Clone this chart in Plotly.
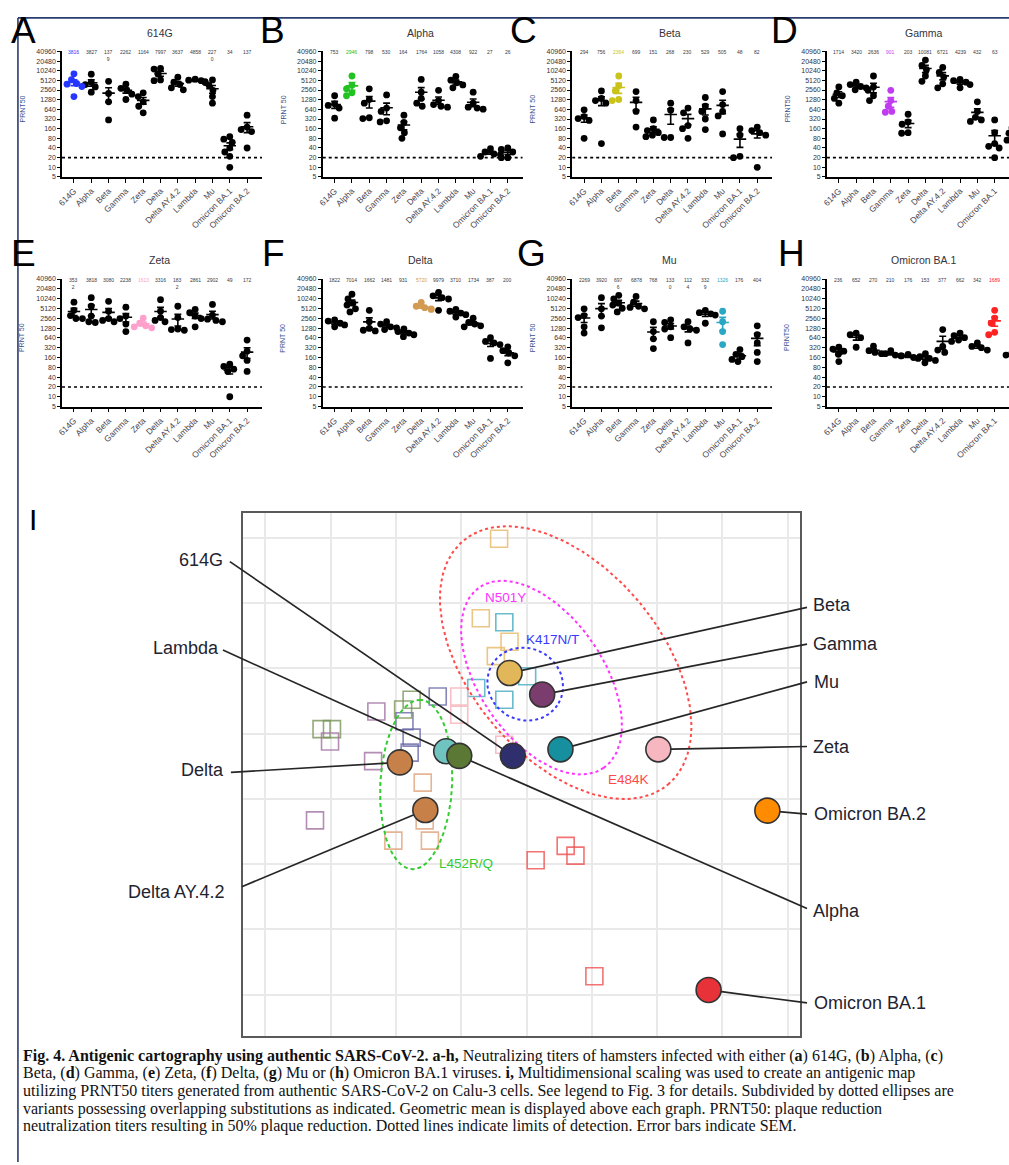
import numpy as np
import plotly.graph_objects as go

W, H = 1009, 1165

# ---------------------------------------------------------------- data
variants = ["614G", "Alpha", "Beta", "Gamma", "Zeta", "Delta", "Delta AY.4.2",
            "Lambda", "Mu", "Omicron BA.1", "Omicron BA.2"]
titer_ticks = [5, 10, 20, 40, 80, 160, 320, 640, 1280, 2560, 5120, 10240, 20480, 40960]
detection_limit = 20

# PRNT50 titers of individual hamsters, one list per virus tested (columns as in `variants`)
prnt_614G = [
    [8200, 5400, 4100, 3900, 3300, 1600], [8000, 4500, 3800, 3200, 2200],
    [4800, 2000, 1100, 300], [3900, 2900, 2500, 1900, 1300], [2100, 1600, 1100, 800, 500],
    [12000, 11500, 8000, 5300, 5000], [6400, 4500, 3800, 3000, 2600],
    [5600, 5200, 5000, 4700, 4400], [5300, 3600, 2500, 1600, 1000],
    [90, 75, 60, 40, 30, 22, 10], [420, 180, 150, 130, 40]]
gmt_614G = [3816, 3827, 1379, 2262, 1164, 7997, 3637, 4858, 2270, 34, 137]

prnt_alpha = [
    [1700, 950, 850, 700, 340], [7000, 3600, 2800, 2100, 1700], [2800, 1300, 1000, 350, 330],
    [1800, 700, 550, 280, 260], [420, 250, 170, 120, 80], [5500, 2200, 1400, 1000, 800],
    [2500, 1200, 900, 800, 750], [6800, 5200, 4300, 3700, 3000], [2200, 1000, 750, 700, 650],
    [38, 30, 26, 25, 22], [40, 36, 30, 20, 20]]
gmt_alpha = [753, 2946, 798, 530, 164, 1764, 1058, 4308, 922, 27, 26]

prnt_beta = [
    [620, 380, 330, 290, 80], [2400, 1400, 1200, 1000, 55], [7000, 3500, 2400, 1300, 1200],
    [2300, 1200, 550, 180], [300, 160, 140, 120, 100, 90], [1000, 600, 85, 85],
    [700, 500, 200, 160, 80], [1500, 800, 550, 320, 150], [2300, 900, 550, 400, 110],
    [160, 100, 22, 20], [180, 140, 120, 100, 10]]
gmt_beta = [294, 756, 2364, 699, 151, 268, 230, 529, 505, 48, 82]

prnt_gamma = [
    [3200, 2100, 1700, 1400, 1000], [4500, 3800, 3300, 3000, 2600], [7000, 3200, 2500, 1700, 1200],
    [2500, 1200, 800, 550, 520], [450, 260, 220, 120, 115], [22000, 15000, 11000, 7000, 4800],
    [13000, 9000, 6500, 4000, 3000], [5500, 5000, 4500, 3800, 3000], [1100, 550, 360, 300, 270],
    [300, 120, 55, 45, 40, 20], [170, 115, 80, 70]]
gmt_gamma = [1714, 3420, 2636, 901, 203, 10081, 6721, 4239, 432, 63, 102]

prnt_zeta = [
    [8000, 4500, 3100, 2500, 2500], [11000, 6000, 3000, 2000, 1900], [8500, 4200, 2500, 2200, 2000],
    [5600, 3000, 2500, 1700, 1000], [2600, 1800, 1500, 1400, 1300], [9500, 4200, 2700, 2200, 2000],
    [6000, 2700, 1200, 1150, 1100], [4800, 3800, 3000, 2500, 1400], [6800, 3200, 2400, 2200, 2000],
    [100, 85, 70, 60, 10], [550, 250, 180, 130, 60]]
gmt_zeta = [3532, 3818, 3080, 2238, 1613, 3316, 1832, 2861, 2902, 49, 172]

prnt_delta = [
    [2300, 2100, 1800, 1600, 1400], [14000, 10000, 7500, 6500, 5000, 4000],
    [4500, 2000, 1250, 1100, 1050], [2000, 1700, 1400, 1300, 1150], [1200, 1000, 900, 800, 700],
    [7800, 6000, 5400, 5000, 4800], [16000, 12500, 11000, 10000, 4500],
    [4800, 4200, 3700, 3300, 2800], [2600, 1900, 1700, 1500, 1400],
    [650, 500, 450, 400, 150], [340, 260, 220, 180, 110]]
gmt_delta = [1822, 7014, 1662, 1481, 931, 5720, 9979, 3710, 1734, 387, 200]

prnt_mu = [
    [5000, 3100, 2700, 1400, 900], [11000, 5000, 3000, 1300],
    [13000, 10000, 7500, 6500, 5200, 4000], [12000, 8000, 6000, 5500, 5000],
    [2000, 1000, 600, 300], [2300, 1900, 1400, 1200, 650], [2000, 1400, 1200, 1100, 450],
    [4500, 3800, 3500, 3200, 1800], [4200, 2000, 1000, 400], [280, 200, 170, 140, 120],
    [1500, 800, 450, 230, 120]]
gmt_mu = [2269, 3920, 6976, 6878, 768, 1330, 1124, 3329, 1326, 176, 404]

prnt_ba1 = [
    [330, 290, 250, 200, 120], [900, 800, 650, 330], [360, 260, 230, 210], [260, 210, 190, 180],
    [200, 180, 160, 150], [210, 170, 150, 130, 110], [1150, 350, 270, 230],
    [900, 750, 650, 550, 500], [450, 350, 320, 270], [4500, 2600, 1800, 950, 800],
    [220, 190, 170]]
gmt_ba1 = [236, 652, 270, 210, 176, 153, 377, 662, 342, 1689, 193]

# antigenic map coordinates (antigenic units); antigens drawn as circles, sera as squares
antigen_names = ["614G", "Lambda", "Alpha", "Beta", "Gamma", "Delta", "Delta AY.4.2",
                 "Mu", "Zeta", "Omicron BA.1", "Omicron BA.2"]
antigen_x = [3.79, 2.77, 2.97, 3.74, 4.24, 2.06, 2.45, 4.52, 6.02, 6.79, 7.69]
antigen_y = [3.66, 3.73, 3.66, 4.93, 4.60, 3.56, 2.83, 3.76, 3.76, 0.07, 2.82]

sera_beta_x, sera_beta_y = [3.58, 3.30, 3.74, 3.53], [6.99, 5.77, 5.41, 5.19]
sera_mu_x, sera_mu_y = [3.66, 4.01, 3.23, 3.66], [5.71, 4.88, 4.70, 4.52]
sera_614G_x, sera_614G_y = [2.64, 2.13, 2.24, 2.21], [4.57, 4.19, 3.94, 3.71]
sera_alpha_x, sera_alpha_y = [2.24, 2.11, 0.86, 1.02], [4.52, 4.37, 4.07, 4.07]
sera_gamma_x, sera_gamma_y = [1.70, 0.99, 1.65, 0.76], [4.34, 3.88, 3.58, 2.67]
sera_zeta_x, sera_zeta_y = [2.97, 2.97, 3.66], [4.57, 4.29, 3.83]
sera_delta_x, sera_delta_y = [2.41, 2.44, 1.96, 2.52], [3.25, 2.67, 2.36, 2.36]
sera_ba1_x, sera_ba1_y = [4.14, 4.60, 4.75, 5.04], [2.06, 2.28, 2.13, 0.28]

# substitution clusters: label, centre x, centre y, semi-major, semi-minor, angle (deg)
cluster_labels = ["E484K", "N501Y", "K417N/T", "L452R/Q"]
cluster_cx = [4.60, 4.23, 3.98, 2.31]
cluster_cy = [5.09, 4.86, 4.76, 3.22]
cluster_a = [2.44, 1.68, 0.59, 1.30]
cluster_b = [1.46, 0.95, 0.55, 0.55]
cluster_angle = [-50, -55.5, -30, 87]

# ---------------------------------------------------------------- styles / geometry
FONT = "Liberation Sans, Arial, sans-serif"
def pxx(px): return px / W
def pxy(py): return 1 - py / H

ROWS = [(47.7, 174.0), (276.7, 405.0)]
AXIS_LEFT = [57.3, 319.3, 570.0, 826.0]
LETTER_X = [4, 254, 506, 768, 4, 256, 513, 775]
LETTER_Y = [27, 251]
COL0, COL_STEP, PANEL_W, SEP = 12.0, 17.4, 201.0, 6.2

panels = [
    ("A", "614G", prnt_614G, gmt_614G, 0, "#2436ff", "PRNT50", {2, 8}),
    ("B", "Alpha", prnt_alpha, gmt_alpha, 1, "#22c222", "PRNT 50", set()),
    ("C", "Beta", prnt_beta, gmt_beta, 2, "#c9c31a", "PRNT 50", set()),
    ("D", "Gamma", prnt_gamma, gmt_gamma, 3, "#c13cf0", "PRNT50", set()),
    ("E", "Zeta", prnt_zeta, gmt_zeta, 4, "#ff9fcc", "PRNT 50", {0, 6}),
    ("F", "Delta", prnt_delta, gmt_delta, 5, "#d39b52", "PRNT 50", set()),
    ("G", "Mu", prnt_mu, gmt_mu, 8, "#2aa7c2", "PRNT 50", {2, 5, 6, 7}),
    ("H", "Omicron BA.1", prnt_ba1, gmt_ba1, 9, "#ff2222", "PRNT50", set()),
]

fig = go.Figure()
annotations, shapes, layout_axes = [], [], {}

def note(xp, yp, text, size, color, family=FONT, xanchor="center", yanchor="middle", **kw):
    annotations.append(dict(x=pxx(xp), y=pxy(yp), xref="paper", yref="paper", text=text,
                            showarrow=False, xanchor=xanchor, yanchor=yanchor,
                            font=dict(size=size, color=color, family=family), **kw))

def ax_ids(n):
    return ("x" if n == 1 else f"x{n}", "y" if n == 1 else f"y{n}",
            "xaxis" if n == 1 else f"xaxis{n}", "yaxis" if n == 1 else f"yaxis{n}")

def swarm(vals, dpx):
    vals = np.asarray(vals, float)
    order = np.argsort(-vals, kind="stable")
    cands = sorted(np.arange(-10, 10.5, 0.5), key=lambda c: (abs(c), c))
    placed, offs = [], np.zeros(len(vals))
    for idx in order:
        yp = np.log2(vals[idx]) * dpx
        chosen = cands[-1]
        for c in cands:
            if all((c - a) ** 2 + (yp - b) ** 2 >= SEP ** 2 for a, b in placed):
                chosen = c
                break
        placed.append((chosen, yp))
        offs[idx] = chosen / COL_STEP
    return offs

for k, (letter, title, data, gmt, hi, hcol, ytitle, wraps) in enumerate(panels):
    n = k + 1
    xr, yr, xk, yk = ax_ids(n)
    row, col = divmod(k, 4)
    left = AXIS_LEFT[col]
    right = min(left + PANEL_W, W)
    top, bot = ROWS[row]
    dpx = (bot - top) / 13.0
    x_range = [-COL0 / COL_STEP, (right - left - COL0) / COL_STEP]

    layout_axes[xk] = dict(domain=[pxx(left), pxx(right)], range=x_range, anchor=yr,
                           tickvals=list(range(len(variants))), ticktext=variants, tickangle=-45,
                           ticks="outside", ticklen=4, tickwidth=1.3, tickcolor="black",
                           showline=True, linecolor="black", linewidth=1.6, showgrid=False,
                           zeroline=False, tickfont=dict(size=8.5, color="#4a4650", family=FONT))
    layout_axes[yk] = dict(domain=[pxy(bot), pxy(top)], type="log",
                           range=[np.log10(5), np.log10(40960)], anchor=xr,
                           tickvals=titer_ticks, ticktext=[str(t) for t in titer_ticks],
                           ticks="outside", ticklen=3, tickwidth=1.2, tickcolor="black",
                           showline=True, linecolor="black", linewidth=1.6, showgrid=False,
                           zeroline=False, tickfont=dict(size=7, color="#33323d", family=FONT))

    # limit of detection
    fig.add_trace(go.Scatter(x=x_range, y=[detection_limit] * 2, mode="lines", xaxis=xr, yaxis=yr,
                             line=dict(color="black", width=1.6, dash="dot"), hoverinfo="skip"))

    for group, colr in (("other", "black"), ("homologous", hcol)):
        px_, py_, lx, ly = [], [], [], []
        for i, vals in enumerate(data):
            if (i == hi) != (group == "homologous"):
                continue
            v = np.asarray(vals, float)
            px_ += list(i + swarm(v, dpx))
            py_ += list(v)
            m = v.mean()
            s = v.std(ddof=1) / np.sqrt(len(v))
            lo, hi_ = max(m - s, 5.5), m + s
            lx += [i - 0.36, i + 0.36, None, i, i, None, i - 0.2, i + 0.2, None, i - 0.2, i + 0.2, None]
            ly += [m, m, None, lo, hi_, None, lo, lo, None, hi_, hi_, None]
        fig.add_trace(go.Scatter(x=px_, y=py_, mode="markers", xaxis=xr, yaxis=yr,
                                 marker=dict(size=6.8, color=colr, line=dict(width=0))))
        fig.add_trace(go.Scatter(x=lx, y=ly, mode="lines", xaxis=xr, yaxis=yr,
                                 line=dict(color=colr, width=1.6)))

    # geometric mean titers above each column
    for i, g in enumerate(gmt):
        s = str(g)
        if i in wraps:
            s = s[:3] + "<br>" + s[3:]
        annotations.append(dict(x=i, y=pxy(top - 4.5), xref=xr, yref="paper", text=s,
                                showarrow=False, xanchor="center", yanchor="top",
                                font=dict(size=5, color=hcol if i == hi else "#3a3a40",
                                          family=FONT)))
    note(left + 98, top - 19, title, 10.5, "#33333b")
    note(left - 40, (top + bot) / 2 - 5, ytitle, 7, "#3a4f8f", textangle=-90)
    note(LETTER_X[k], LETTER_Y[row], letter, 37, "black", xanchor="left")

# ---------------------------------------------------------------- antigenic map
UNIT, X0PX, Y0PX = 65.6, 261.7, 996.5
def mx(px): return (px - X0PX) / UNIT
def my(py): return (Y0PX - py) / UNIT

BOX = (239.3, 512.0, 799.0, 1038.0)
grid_axis = dict(tick0=0, dtick=1, showgrid=True, gridcolor="#e9e9e9", gridwidth=2,
                 showticklabels=False, ticks="", zeroline=False, showline=True, mirror=True,
                 linecolor="#5a5a5a", linewidth=2)
layout_axes["xaxis9"] = dict(domain=[pxx(BOX[0]), pxx(BOX[2])], range=[mx(BOX[0]), mx(BOX[2])],
                             anchor="y9", **grid_axis)
layout_axes["yaxis9"] = dict(domain=[pxy(BOX[3]), pxy(BOX[1])], range=[my(BOX[3]), my(BOX[1])],
                             anchor="x9", **grid_axis)
fig.add_trace(go.Scatter(x=[None], y=[None], xaxis="x9", yaxis="y9", mode="markers"))

# full-page layer sharing the map's scale, so leader lines can leave the box
layout_axes["xaxis10"] = dict(domain=[0, 1], range=[mx(0), mx(W)], anchor="y10", visible=False,
                              showgrid=False, zeroline=False)
layout_axes["yaxis10"] = dict(domain=[0, 1], range=[my(H), my(0)], anchor="x10", visible=False,
                              showgrid=False, zeroline=False)
OV = dict(xaxis="x10", yaxis="y10")

sera = [
    (sera_beta_x, sera_beta_y, "rgba(232,188,110,0.85)"),
    (sera_mu_x, sera_mu_y, "rgba(80,176,196,0.85)"),
    (sera_614G_x, sera_614G_y, "rgba(104,104,166,0.8)"),
    (sera_alpha_x, sera_alpha_y, "rgba(120,148,88,0.8)"),
    (sera_gamma_x, sera_gamma_y, "rgba(160,112,160,0.8)"),
    (sera_zeta_x, sera_zeta_y, "rgba(248,184,192,0.9)"),
    (sera_delta_x, sera_delta_y, "rgba(226,168,130,0.85)"),
    (sera_ba1_x, sera_ba1_y, "rgba(238,80,80,0.8)"),
]
for sx, sy, c in sera:
    fig.add_trace(go.Scatter(x=sx, y=sy, mode="markers", **OV,
                             marker=dict(symbol="square-open", size=17, color=c,
                                         line=dict(width=1.6, color=c))))

cluster_style = [("#ff4a4a", "dot"), ("#ff33ff", "dot"), ("#3a3aff", "dot"), ("#33cc33", "4px,3px")]
t = np.linspace(0, 2 * np.pi, 200)
for cx, cy, a, b, ang, (c, d) in zip(cluster_cx, cluster_cy, cluster_a, cluster_b,
                                      cluster_angle, cluster_style):
    r = np.radians(ang)
    ex = cx + a * np.cos(t) * np.cos(r) - b * np.sin(t) * np.sin(r)
    ey = cy + a * np.cos(t) * np.sin(r) + b * np.sin(t) * np.cos(r)
    fig.add_trace(go.Scatter(x=ex, y=ey, mode="lines", **OV, line=dict(color=c, width=2, dash=d)))

cluster_label_px = [(627, 780), (503, 597), (550, 639), (463, 865)]
for lab, (c, _), (lx, ly) in zip(cluster_labels, cluster_style, cluster_label_px):
    note(lx, ly, lab, 13.5, c)

# leader lines: label anchor (pixels) -> antigen position
leaders = {
    "614G": ((226, 561), (221, 559), "right"),
    "Lambda": ((219, 650), (217, 648), "right"),
    "Delta": ((227, 773), (222, 771), "right"),
    "Delta AY.4.2": ((238, 888), (222, 893), "right"),
    "Beta": ((806, 607), (810, 605), "left"),
    "Gamma": ((806, 644), (810, 644), "left"),
    "Mu": ((806, 682), (811, 682), "left"),
    "Zeta": ((806, 747), (810, 747), "left"),
    "Omicron BA.2": ((806, 815), (811, 815), "left"),
    "Alpha": ((806, 910), (810, 912), "left"),
    "Omicron BA.1": ((806, 1005), (811, 1005), "left"),
}
lxs, lys = [], []
for name, ((ax_, ay_), (tx, ty), side) in leaders.items():
    j = antigen_names.index(name)
    lxs += [mx(ax_), antigen_x[j], None]
    lys += [my(ay_), antigen_y[j], None]
    note(tx, ty, name, 18, "#232330", xanchor=side)
fig.add_trace(go.Scatter(x=lxs, y=lys, mode="lines", **OV, line=dict(color="#262626", width=1.7)))

antigen_colors = {"614G": "#2e2f6c", "Lambda": "#70c4c0", "Alpha": "#5b7934", "Beta": "#e2b75a",
                  "Gamma": "#7a3d6d", "Delta": "#c88049", "Delta AY.4.2": "#c88049",
                  "Mu": "#16909f", "Zeta": "#f6b7c1", "Omicron BA.1": "#e8323a",
                  "Omicron BA.2": "#ff8c00"}
fig.add_trace(go.Scatter(x=antigen_x, y=antigen_y, mode="markers", **OV,
                         marker=dict(size=25, color=[antigen_colors[a] for a in antigen_names],
                                     line=dict(width=1.6, color="#333333"))))

note(22, 519, "I", 30, "black", xanchor="left")

# ---------------------------------------------------------------- caption
caption = [
    "<b>Fig. 4. Antigenic cartography using authentic SARS-CoV-2. a-h,</b> Neutralizing titers of hamsters infected with either (<b>a</b>) 614G, (<b>b</b>) Alpha, (<b>c</b>)",
    "Beta, (<b>d</b>) Gamma, (<b>e</b>) Zeta, (<b>f</b>) Delta, (<b>g</b>) Mu or (<b>h</b>) Omicron BA.1 viruses. <b>i,</b> Multidimensional scaling was used to create an antigenic map",
    "utilizing PRNT50 titers generated from authentic SARS-CoV-2 on Calu-3 cells. See legend to Fig. 3 for details. Subdivided by dotted ellipses are",
    "variants possessing overlapping substitutions as indicated. Geometric mean is displayed above each graph. PRNT50: plaque reduction",
    "neutralization titers resulting in 50% plaque reduction. Dotted lines indicate limits of detection. Error bars indicate SEM.",
]
for i, line in enumerate(caption):
    note(16, 1058 + 17.8 * i, line, 16, "#111111",
         family="Liberation Serif, Times New Roman, serif", xanchor="left")

# page frame
frame = "#2b3d6e"
shapes.append(dict(type="line", xref="paper", yref="paper", x0=pxx(13), x1=pxx(13),
                   y0=pxy(14), y1=0, line=dict(color=frame, width=1.6)))
shapes.append(dict(type="line", xref="paper", yref="paper", x0=pxx(13), x1=1,
                   y0=pxy(14), y1=pxy(14), line=dict(color=frame, width=1.6)))

fig.update_layout(width=W, height=H, margin=dict(l=0, r=0, t=0, b=0), showlegend=False,
                  paper_bgcolor="white", plot_bgcolor="rgba(0,0,0,0)",
                  annotations=annotations, shapes=shapes, **layout_axes)
fig.write_html("out.html")
